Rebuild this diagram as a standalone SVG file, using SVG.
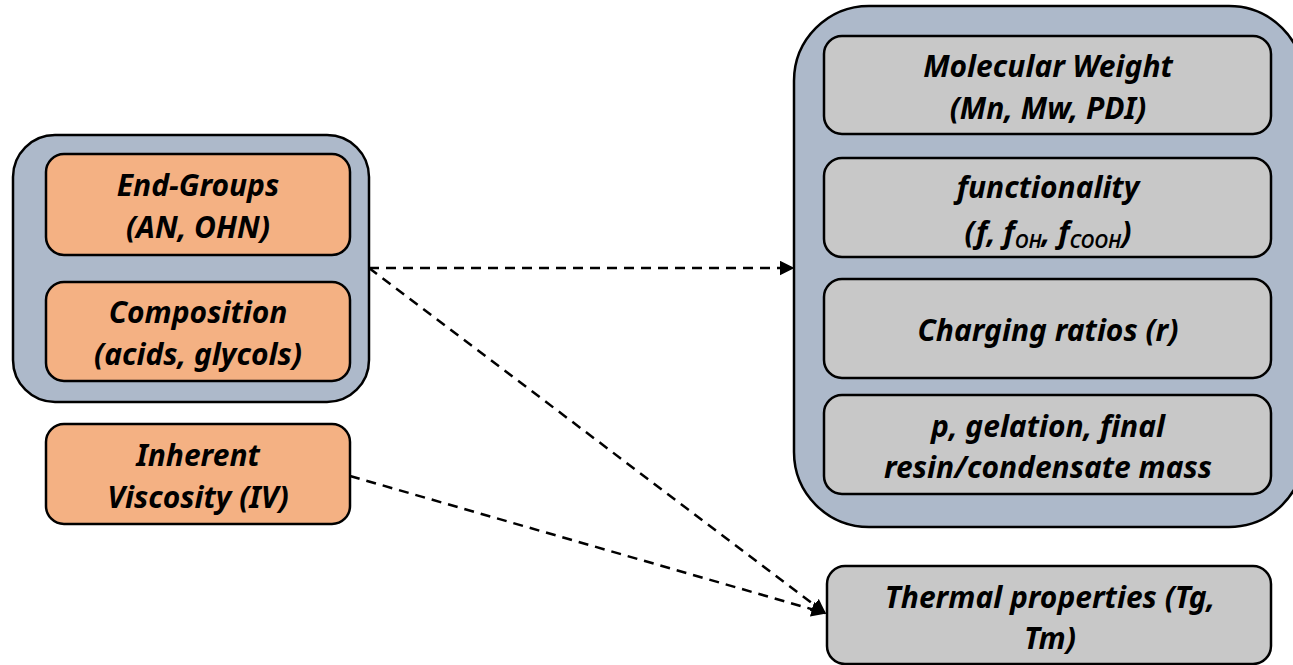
<svg xmlns="http://www.w3.org/2000/svg" width="1293" height="665" viewBox="0 0 1293 665">
  <style>
    .group { fill: #adb9ca; stroke: #000; stroke-width: 2.5; }
    .orange { fill: #f4b183; stroke: #000; stroke-width: 2.5; }
    .grey { fill: #c8c8c8; stroke: #000; stroke-width: 2.5; }
    .lbl { font-family: "Noto Sans", "Open Sans", sans-serif; font-style: italic; font-weight: 700; font-size: 30px; fill: #000; text-anchor: middle; }
    .sub { font-size: 19px; font-weight: 600; }
    .link { fill: none; stroke: #000; stroke-width: 2.5; stroke-dasharray: 10 7; }
  </style>
  <defs>
    <marker id="arrow" viewBox="0 0 10 10" refX="9" refY="5" markerWidth="6" markerHeight="6" markerUnits="strokeWidth" orient="auto">
      <path d="M0,0 L10,5 L0,10 z" fill="#000"/>
    </marker>
  </defs>

  <!-- left container: inputs -->
  <g id="inputs">
    <rect class="group" x="13" y="135" width="356" height="267" rx="42"/>
  </g>
  <g id="end-groups">
    <rect class="orange" x="46" y="154" width="304" height="101" rx="18"/>
    <text class="lbl" x="198" y="196">End-Groups</text>
    <text class="lbl" x="198" y="238">(AN, OHN)</text>
  </g>
  <g id="composition">
    <rect class="orange" x="46" y="282" width="304" height="99" rx="18"/>
    <text class="lbl" x="198" y="323">Composition</text>
    <text class="lbl" x="198" y="365">(acids, glycols)</text>
  </g>
  <g id="inherent-viscosity">
    <rect class="orange" x="46" y="424" width="304" height="100" rx="18"/>
    <text class="lbl" x="198" y="466">Inherent</text>
    <text class="lbl" x="198" y="508">Viscosity (IV)</text>
  </g>

  <!-- right container: derived quantities -->
  <g id="outputs">
    <rect class="group" x="794" y="6" width="510" height="521" rx="75"/>
  </g>
  <g id="molecular-weight">
    <rect class="grey" x="824" y="36" width="447" height="98" rx="18"/>
    <text class="lbl" x="1048" y="77">Molecular Weight</text>
    <text class="lbl" x="1048" y="119">(Mn, Mw, PDI)</text>
  </g>
  <g id="functionality">
    <rect class="grey" x="824" y="158" width="447" height="99" rx="18"/>
    <text class="lbl" x="1048" y="198">functionality</text>
    <text class="lbl" x="1048" y="243">(f, f<tspan class="sub" dy="5">OH</tspan><tspan dy="-5">, f</tspan><tspan class="sub" dy="5">COOH</tspan><tspan dy="-5">)</tspan></text>
  </g>
  <g id="charging-ratios">
    <rect class="grey" x="824" y="279" width="447" height="99" rx="18"/>
    <text class="lbl" x="1048" y="341">Charging ratios (r)</text>
  </g>
  <g id="gelation">
    <rect class="grey" x="824" y="395" width="447" height="99" rx="18"/>
    <text class="lbl" x="1048" y="437">p, gelation, final</text>
    <text class="lbl" x="1048" y="478">resin/condensate mass</text>
  </g>
  <g id="thermal">
    <rect class="grey" x="827" y="566" width="444" height="98" rx="18"/>
    <text class="lbl" x="1050" y="608">Thermal properties (Tg,</text>
    <text class="lbl" x="1050" y="649">Tm)</text>
  </g>

  <!-- connectors -->
  <g id="connectors">
    <line class="link" x1="369" y1="268" x2="793" y2="268" marker-end="url(#arrow)"/>
    <line class="link" x1="369" y1="268" x2="825" y2="613" marker-end="url(#arrow)"/>
    <line class="link" x1="350" y1="476" x2="825" y2="613" marker-end="url(#arrow)"/>
  </g>
</svg>
